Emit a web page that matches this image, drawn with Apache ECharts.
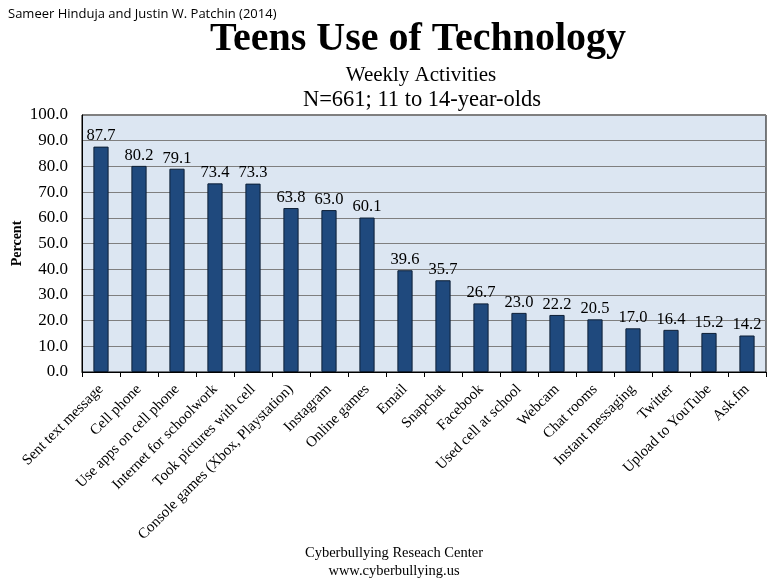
<!DOCTYPE html>
<html>
<head>
<meta charset="utf-8">
<script src="https://cdn.jsdelivr.net/npm/echarts@6/dist/echarts.min.js"></script>
<style>html,body{margin:0;padding:0;background:#fff}#c{width:777px;height:579px}</style>
</head>
<body>
<div id="c"></div>
<script>
const categories = ["Sent text message","Cell phone","Use apps on cell phone","Internet for schoolwork","Took pictures with cell","Console games (Xbox, Playstation)","Instagram","Online games","Email","Snapchat","Facebook","Used cell at school","Webcam","Chat rooms","Instant messaging","Twitter","Upload to YouTube","Ask.fm"];
const values = [87.7,80.2,79.1,73.4,73.3,63.8,63.0,60.1,39.6,35.7,26.7,23.0,22.2,20.5,17.0,16.4,15.2,14.2];
const yTicks = [0,10,20,30,40,50,60,70,80,90,100];

const serif = "'Liberation Serif', 'DejaVu Serif', serif";
const chart = echarts.init(document.getElementById('c'), null, {renderer:'canvas'});
chart.setOption({
  animation:false,
  backgroundColor:'#ffffff',
  title:[
    {text:'Sameer Hinduja and Justin W. Patchin (2014)', left:3, top:3, textStyle:{fontFamily:"'Open Sans','Noto Sans',sans-serif", fontSize:13, fontWeight:'normal', color:'#000'}},
    {text:'Teens Use of Technology', left:413, textAlign:'center', top:15, textStyle:{fontFamily:serif, fontSize:40, fontWeight:'bold', color:'#000'}},
    {text:'Weekly Activities', left:416, textAlign:'center', top:60, textStyle:{fontFamily:serif, fontSize:21, fontWeight:'normal', color:'#000'}},
    {text:'N=661; 11 to 14-year-olds', left:417, textAlign:'center', top:84, textStyle:{fontFamily:serif, fontSize:22.5, fontWeight:'normal', color:'#000'}},
    {text:'Cyberbullying Reseach Center', left:389, textAlign:'center', top:541, textStyle:{fontFamily:serif, fontSize:14.5, fontWeight:'normal', color:'#000'}},
    {text:'www.cyberbullying.us', left:389, textAlign:'center', top:559, textStyle:{fontFamily:serif, fontSize:14.5, fontWeight:'normal', color:'#000'}}
  ],
  grid:{left:82, right:11, top:115, bottom:207, show:true, backgroundColor:'#dce6f2', borderColor:'#000', borderWidth:1, containLabel:false, outerBoundsMode:'none'},
  xAxis:{
    type:'category', data:categories,
    axisLine:{show:true, lineStyle:{color:'#000', width:1}},
    axisTick:{show:true, length:5, lineStyle:{color:'#000'}},
    axisLabel:{rotate:45, interval:0, fontFamily:serif, fontSize:15, color:'#000', margin:15}
  },
  yAxis:{
    type:'value', min:0, max:100, interval:10,
    name:'Percent', nameLocation:'middle', nameGap:58, nameRotate:90, nameMoveOverlap:false,
    nameTextStyle:{fontFamily:serif, fontSize:14, fontWeight:'bold', color:'#000'},
    axisLine:{show:true, lineStyle:{color:'#000'}},
    axisTick:{show:false},
    axisLabel:{fontFamily:serif, fontSize:17, color:'#000', margin:14, formatter:v=>v.toFixed(1)},
    splitLine:{show:true, lineStyle:{color:'#7f7f7f', width:1}}
  },
  series:[{
    type:'bar', data:values, barWidth:'40%',
    itemStyle:{color:'#1f497d', borderColor:'#0d1f36', borderWidth:1},
    label:{show:true, position:'top', distance:2, fontFamily:serif, fontSize:16.5, color:'#000', formatter:p=>p.value.toFixed(1)}
  }]
});
</script>
</body>
</html>
